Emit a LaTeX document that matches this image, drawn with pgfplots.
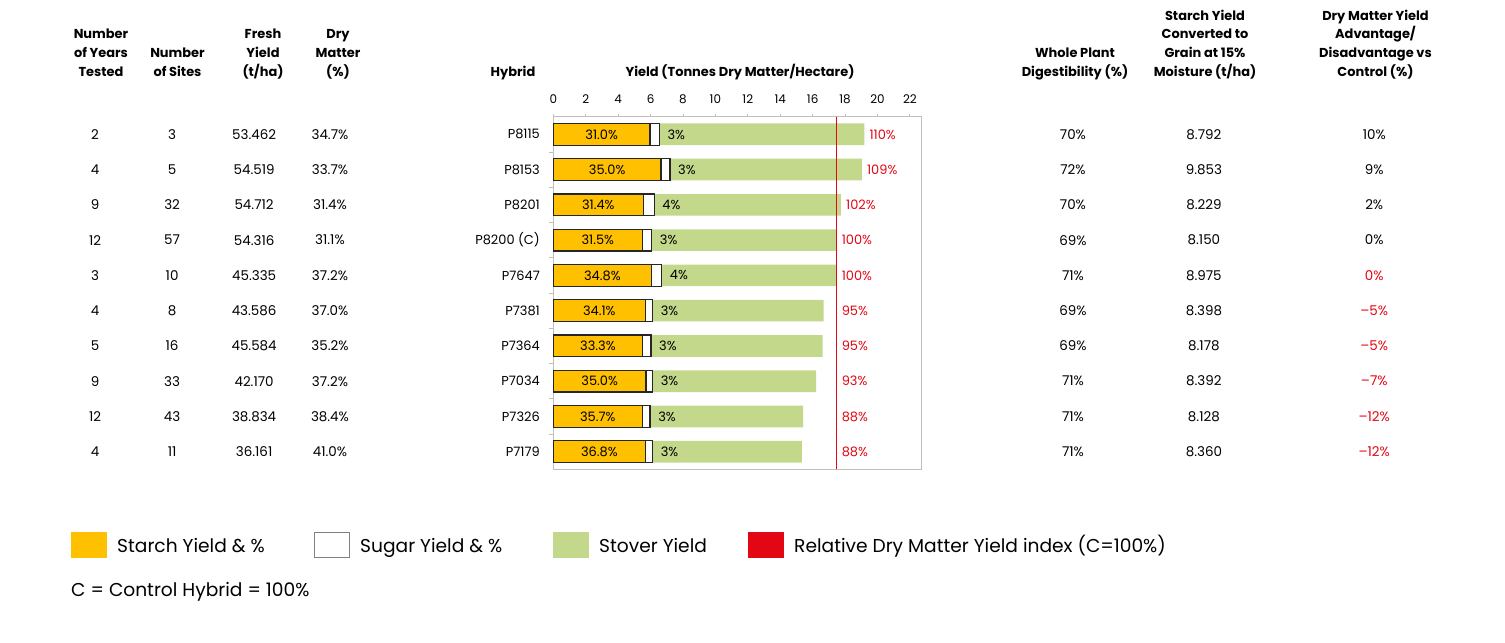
\documentclass[border=0pt]{standalone}
\usepackage{pgfplots}
\pgfplotsset{compat=1.18}
\usepackage{pgfplotstable}
\usepackage{fontspec}
\setmainfont{Poppins}

\definecolor{starch}{HTML}{FFC000}
\definecolor{stover}{HTML}{C3D88A}
\definecolor{dmred}{HTML}{E30613}
\definecolor{frame}{HTML}{BFBFBF}
\definecolor{edge}{HTML}{262626}
\newcommand\R[1]{\textcolor{dmred}{#1}}

% one row per hybrid, top to bottom; yields in t DM/ha
\pgfplotstableread[col sep=comma]{
hybrid,years,sites,fresh,dm,starch,sugar,stover,starchpct,sugarpct,rel,dig,grain,adv
P8115,2,3,53.462,34.7\%,5.97,0.57,12.65,31.0\%,3\%,110\%,70\%,8.792,10\%
P8153,4,5,54.519,33.7\%,6.64,0.56,11.84,35.0\%,3\%,109\%,72\%,9.853,9\%
P8201,9,32,54.712,31.4\%,5.55,0.68,11.52,31.4\%,4\%,102\%,70\%,8.229,2\%
P8200C,12,57,54.316,31.1\%,5.49,0.58,11.41,31.5\%,3\%,100\%,69\%,8.150,0\%
P7647,3,10,45.335,37.2\%,6.05,0.64,10.77,34.8\%,4\%,100\%,71\%,8.975,\R{0\%}
P7381,4,8,43.586,37.0\%,5.68,0.45,10.55,34.1\%,3\%,95\%,69\%,8.398,\R{--5\%}
P7364,5,16,45.584,35.2\%,5.51,0.52,10.59,33.3\%,3\%,95\%,69\%,8.178,\R{--5\%}
P7034,9,33,42.170,37.2\%,5.72,0.41,10.09,35.0\%,3\%,93\%,71\%,8.392,\R{--7\%}
P7326,12,43,38.834,38.4\%,5.49,0.48,9.45,35.7\%,3\%,88\%,71\%,8.128,\R{--12\%}
P7179,4,11,36.161,41.0\%,5.68,0.45,9.21,36.8\%,3\%,88\%,71\%,8.360,\R{--12\%}
}\data

\def\ctrl{17.48}

\pgfplotsset{
  txt/.style={draw=none, mark=none, nodes near coords, point meta=explicit symbolic,
    nodes near coords style={anchor=center, inner sep=0pt, font=\fontsize{13.5}{15}\selectfont}},
  bars/.style={xbar, bar width=21.7bp, bar shift=0pt},
}

\begin{document}
\begin{tikzpicture}
\path[use as bounding box] (0,0) rectangle (1505bp,-643bp);
\begin{axis}[
  at={(553.3bp,-116.7bp)}, anchor=north west,
  scale only axis, width=368.4bp, height=352.6bp,
  xmin=0, xmax=22.73, ymin=-0.5, ymax=9.5, y dir=reverse,
  clip=false,
  axis line style={draw=frame, line width=0.8bp},
  xtick={0,2,...,22}, xtick pos=upper, xticklabel pos=upper,
  ytick={0,...,9}, ytick pos=left,
  yticklabels={P8115,P8153,P8201,{P8200 (C)},P7647,P7381,P7364,P7034,P7326,P7179},
  minor ytick={0.5,1.5,...,8.5},
  tick align=outside,
  xtick style={draw=frame, line width=0.8bp, /pgfplots/major tick length=3bp},
  ytick style={draw=frame, line width=0.8bp, /pgfplots/major tick length=0pt, /pgfplots/minor tick length=4bp},
  xticklabel style={inner sep=0pt, yshift=9bp, font=\fontsize{12}{14}\selectfont},
  yticklabel style={inner sep=0pt, xshift=-9bp, font=\fontsize{13}{15}\selectfont},
  /pgf/number format/assume math mode=true,
]
\addplot[bars, fill=stover, draw=none]
  table[x expr=\thisrow{starch}+\thisrow{sugar}+\thisrow{stover}, y expr=\coordindex]{\data};
\addplot[bars, fill=white, draw=edge, line width=1.3bp]
  table[x expr=\thisrow{starch}+\thisrow{sugar}, y expr=\coordindex]{\data};
\addplot[bars, fill=starch, draw=edge, line width=1.3bp]
  table[x=starch, y expr=\coordindex]{\data};
\addplot[dmred, line width=1.3bp] coordinates {(\ctrl,-0.5) (\ctrl,9.5)};

% labels on the bars
\addplot[txt, nodes near coords style={font=\fontsize{13}{15}\selectfont}]
  table[x expr=\thisrow{starch}/2, y expr=\coordindex, meta=starchpct]{\data};
\addplot[txt, nodes near coords style={anchor=west, xshift=8bp, font=\fontsize{13}{15}\selectfont}]
  table[x expr=\thisrow{starch}+\thisrow{sugar}, y expr=\coordindex, meta=sugarpct]{\data};
\addplot[txt, nodes near coords style={anchor=west, xshift=5bp, text=dmred, font=\fontsize{13}{15}\selectfont}]
  table[x expr={max(\thisrow{starch}+\thisrow{sugar}+\thisrow{stover},\ctrl)}, y expr=\coordindex, meta=rel]{\data};

% table columns, left and right of the bars
\addplot[txt] table[x expr=-28.27, y expr=\coordindex, meta=years]{\data};
\addplot[txt] table[x expr=-23.52, y expr=\coordindex, meta=sites]{\data};
\addplot[txt] table[x expr=-18.46, y expr=\coordindex, meta=fresh]{\data};
\addplot[txt] table[x expr=-13.78, y expr=\coordindex, meta=dm]{\data};
\addplot[txt] table[x expr=32.06, y expr=\coordindex, meta=dig]{\data};
\addplot[txt] table[x expr=40.14, y expr=\coordindex, meta=grain]{\data};
\addplot[txt] table[x expr=50.65, y expr=\coordindex, meta=adv]{\data};
\end{axis}

% column headers
\begin{scope}[every node/.style={anchor=south, align=center, inner sep=0pt,
    font=\fontsize{13}{18.7}\bfseries}]
  \node at (101bp,-82bp) {Number\\of Years\\Tested\strut};
  \node at (177.5bp,-82bp) {Number\\of Sites\strut};
  \node at (263bp,-82bp) {Fresh\\Yield\\(t/ha)\strut};
  \node at (338bp,-82bp) {Dry\\Matter\\(\%)\strut};
  \node at (513bp,-82bp) {Hybrid\strut};
  \node at (740bp,-82bp) {Yield (Tonnes Dry Matter/Hectare)\strut};
  \node at (1075bp,-82bp) {Whole Plant\\Digestibility (\%)\strut};
  \node at (1205bp,-82bp) {Starch Yield\\Converted to\\Grain at 15\%\\Moisture (t/ha)\strut};
  \node at (1375.5bp,-82bp) {Dry Matter Yield\\Advantage/\\Disadvantage vs\\Control (\%)\strut};
\end{scope}

% legend
\begin{scope}[every node/.style={anchor=base west, inner sep=0pt, font=\fontsize{18.7}{22}\selectfont}]
  \fill[starch] (71bp,-532bp) rectangle (107bp,-558bp);
  \node at (117bp,-552bp) {Starch Yield \& \%};
  \draw[fill=white, draw=gray, line width=0.8bp] (314.5bp,-532.5bp) rectangle (349.5bp,-557.5bp);
  \node at (360bp,-552bp) {Sugar Yield \& \%};
  \fill[stover] (553bp,-532bp) rectangle (589bp,-558bp);
  \node at (599bp,-552bp) {Stover Yield};
  \fill[dmred] (748bp,-532bp) rectangle (784bp,-558bp);
  \node at (794bp,-552bp) {Relative Dry Matter Yield index (C=100\%)};
  \node at (71bp,-596bp) {C = Control Hybrid = 100\%};
\end{scope}
\end{tikzpicture}
\end{document}
